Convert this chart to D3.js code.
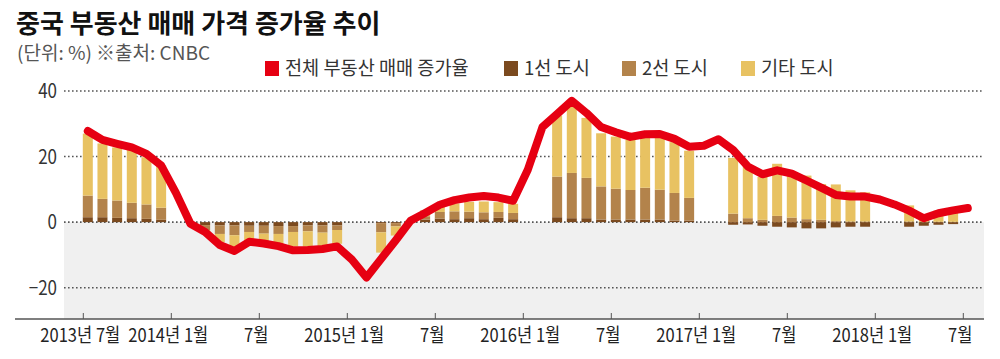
<!DOCTYPE html>
<html><head><meta charset="utf-8">
<script src="https://cdn.jsdelivr.net/npm/d3@7"></script>
<style>body{margin:0;background:#fff}svg{display:block}</style>
</head><body><svg id="c" width="1000" height="359"></svg>
<script>
const months = ["2013-07","2013-08","2013-09","2013-10","2013-11","2013-12",
"2014-01","2014-02","2014-03","2014-04","2014-05","2014-06","2014-07","2014-08","2014-09","2014-10","2014-11","2014-12",
"2015-01","2015-02","2015-03","2015-04","2015-05","2015-06","2015-07","2015-08","2015-09","2015-10","2015-11","2015-12",
"2016-01","2016-02","2016-03","2016-04","2016-05","2016-06","2016-07","2016-08","2016-09","2016-10","2016-11","2016-12",
"2017-01","2017-02","2017-03","2017-04","2017-05","2017-06","2017-07","2017-08","2017-09","2017-10","2017-11","2017-12",
"2018-01","2018-02","2018-03","2018-04","2018-05","2018-06","2018-07"];
const tier1 = [1.5,1.5,1.3,1.2,1.0,0.7,null,null,
-0.9,-1.0,-1.0,-1.1,-1.1,-1.2,-1.2,-1.0,-1.0,-1.0,
null,null,-0.3,-0.3,0.1,0.8,1.1,0.9,1.2,0.9,1.3,0.9,
null,null,1.5,1.2,1.2,0.8,0.8,0.8,0.8,0.8,0.5,0.5,
null,null,-0.8,-0.7,-1.1,-1.4,-1.6,-1.9,-1.9,-1.6,-1.4,-1.4,
null,null,-1.4,-1.1,-0.8,-0.6,null];
const tier2 = [6.6,5.6,5.3,4.7,4.4,3.7,null,null,
-1.5,-2.6,-3.0,-1.9,-2.4,-2.4,-1.8,-1.8,-2.2,-1.4,
null,null,-2.8,-1.0,0.2,1.0,2.0,2.4,2.0,2.1,1.8,1.9,
null,null,12.4,13.8,12.3,10.1,9.4,9.0,9.7,9.1,8.4,6.9,
null,null,2.6,1.2,0.7,1.9,1.4,0.9,0.7,0.3,0.2,0.2,
null,null,0.2,0.1,0.1,0.1,null];
const other = [18.9,16.9,16.2,16.1,14.4,12.9,null,null,
-0.8,-2.5,-3.8,-2.8,-2.8,-3.3,-4.4,-4.7,-4.0,-4.2,
null,null,-6.2,-2.8,0.2,1.8,1.9,2.4,3.0,3.3,3.0,2.8,
null,null,18.6,20.5,18.3,16.2,15.9,15.3,15.4,16.0,15.5,14.4,
null,null,17.0,15.8,13.1,15.9,12.9,13.3,10.9,11.2,9.5,8.9,
null,null,4.9,1.9,3.4,3.7,null];
const total = [27.8,25.1,23.9,22.8,20.8,17.3,9.0,-0.5,
-3.0,-7.0,-8.8,-6.0,-6.5,-7.3,-8.6,-8.5,-8.2,-7.4,
-11.4,-16.9,-11.2,-5.5,0.4,2.8,5.3,6.7,7.5,8.0,7.5,6.5,
16.0,29.0,33.0,37.0,33.3,29.0,27.4,26.0,26.8,26.9,25.4,23.0,
23.3,25.3,22.0,17.0,14.6,15.8,14.8,12.7,10.5,8.3,7.8,7.8,
6.9,5.4,3.5,1.2,2.7,3.6,4.3];
const tickMonths = ["2013-07","2014-01","2014-07","2015-01","2015-07","2016-01","2016-07","2017-01","2017-07","2018-01","2018-07"];
const tickLabels = ["2013년 7월","2014년 1월","7월","2015년 1월","7월","2016년 1월","7월","2017년 1월","7월","2018년 1월","7월"];
const yTicks = [40,20,0,-20];
const yTickLabels = ["40","20","0","\u221220"];
const seriesKeys = ["tier1","tier2","other"];
const legendLabels = ["전체 부동산 매매 증가율","1선 도시","2선 도시","기타 도시"];
const colors = {total:"#e60012", tier1:"#7b4a1f", tier2:"#b3834b", other:"#e8c262"};

const svg = d3.select("#c");
const FONT = "'Noto Sans CJK KR','Noto Sans',sans-serif";
const x = d3.scaleLinear().domain([0, months.length-1]).range([83.3, 963.3]);
const y = d3.scaleLinear().domain([-20, 40]).range([287.7, 91]);
const plotL = 64, plotR = 984, axisY = 319;

svg.append("rect").attr("x", plotL).attr("y", y(0)).attr("width", plotR-plotL).attr("height", axisY - y(0)).attr("fill", "#f0f0f0");

svg.append("g").selectAll("line").data(yTicks).join("line")
  .attr("x1", plotL).attr("x2", plotR-2).attr("y1", d=>y(d)).attr("y2", d=>y(d))
  .attr("stroke", "#555").attr("stroke-width", 1.6).attr("stroke-dasharray", "1.6 2.4");

function sText(g, txt, tx, ty, size, sx, anchor, fill, weight){
  return g.append("text").attr("transform", `translate(${tx},${ty}) scale(${sx},1)`)
    .attr("text-anchor", anchor).attr("font-family", FONT).attr("font-size", size)
    .attr("font-weight", weight||400).attr("fill", fill).text(txt);
}
const gy = svg.append("g");
yTicks.forEach((t,k)=>{ sText(gy, yTickLabels[k], 57, y(t)+7, 20, 0.85, "end", "#333"); });

const rows = months.map((m,i)=>({i, tier1:tier1[i], tier2:tier2[i], other:other[i]})).filter(r=>r.tier1!==null);
const stack = d3.stack().keys(seriesKeys).offset(d3.stackOffsetDiverging)(rows);
const gb = svg.append("g");
stack.forEach(s=>{
  gb.selectAll(null).data(s).join("rect")
    .attr("x", d=>x(d.data.i)-0.5).attr("width", 10)
    .attr("y", d=>y(Math.max(d[0],d[1]))).attr("height", d=>Math.abs(y(d[0])-y(d[1])))
    .attr("fill", colors[s.key]);
});

svg.append("line").attr("x1", 15).attr("x2", plotR).attr("y1", axisY).attr("y2", axisY).attr("stroke", "#555").attr("stroke-width", 1.3);
const gx = svg.append("g");
tickMonths.forEach((m,k)=>{
  const xi = x(months.indexOf(m));
  gx.append("line").attr("x1", xi).attr("x2", xi).attr("y1", axisY).attr("y2", axisY-6).attr("stroke", "#555").attr("stroke-width", 1);
  sText(gx, tickLabels[k], xi-3, 342, 19, 0.87, "middle", "#222");
});

const line = d3.line().x((d,i)=>x(i)+4.5).y(d=>y(d));
svg.append("path").datum(total).attr("d", line).attr("fill", "none")
  .attr("stroke", colors.total).attr("stroke-width", 8).attr("stroke-linejoin", "round").attr("stroke-linecap", "round");

svg.append("text").attr("x", 16).attr("y", 33).attr("font-family", FONT).attr("font-size", 26).attr("font-weight", 700).attr("fill", "#111").text("중국 부동산 매매 가격 증가율 추이");
sText(svg, "(단위: %) ※출처: CNBC", 17, 60, 19, 1.0, "start", "#555");

const legX = [265, 504, 622, 741];
const legKeys = ["total","tier1","tier2","other"];
legKeys.forEach((k,j)=>{
  svg.append("rect").attr("x", legX[j]).attr("y", 61).attr("width", 14).attr("height", 15).attr("fill", colors[k]);
  sText(svg, legendLabels[j], legX[j]+20, 75, 19, 0.98, "start", "#333");
});
</script></body></html>
